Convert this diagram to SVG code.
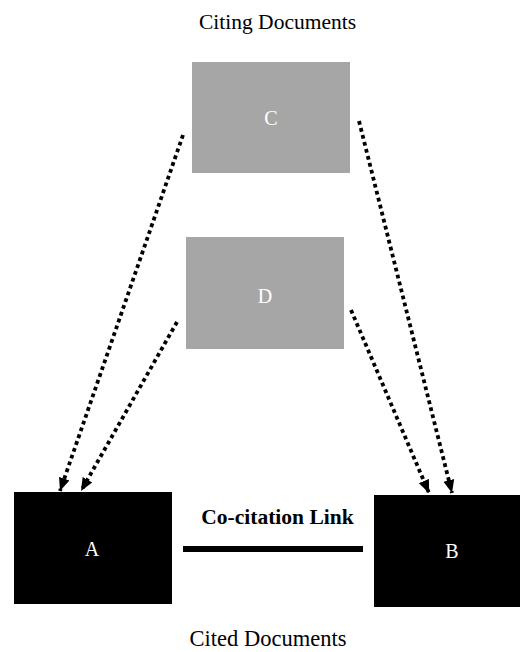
<svg xmlns="http://www.w3.org/2000/svg" width="520" height="652" viewBox="0 0 520 652">
<style>
.t{font-family:"Liberation Serif","Times New Roman",serif;font-size:21.5px;fill:#000;text-anchor:middle}
.cd{font-size:22.5px}
.b{font-weight:bold}
.w{fill:#fff;font-size:20px}
.g{fill:#a6a6a6}
.k{fill:#000}
.c{stroke:#000;stroke-width:3.8;stroke-dasharray:3.8 3.4;fill:none}
</style>
<defs>
<marker id="ah" markerUnits="userSpaceOnUse" markerWidth="14" markerHeight="14" viewBox="0 0 14 14" refX="13" refY="7" orient="auto">
<path d="M0,1.5 L13,7 L0,12.5 Z" fill="#000"/>
</marker>
</defs>
<rect width="520" height="652" fill="#fff"/>
<text class="t" x="277.5" y="29">Citing Documents</text>
<text class="t cd" x="268" y="646">Cited Documents</text>
<g id="C"><rect class="g" x="192" y="62" width="158" height="111"/><text class="t w" x="271" y="125">C</text></g>
<g id="D"><rect class="g" x="186" y="237" width="158" height="112"/><text class="t w" x="265" y="303">D</text></g>
<g id="A"><rect class="k" x="14" y="492" width="158" height="112"/><text class="t w" x="92" y="556">A</text></g>
<g id="B"><rect class="k" x="374" y="495" width="146" height="112"/><text class="t w" x="452" y="558">B</text></g>
<g id="link"><rect x="183" y="546" width="180" height="6" fill="#000"/><text class="t b" x="277.5" y="524">Co-citation Link</text></g>
<g id="connectors">
<line class="c" x1="183" y1="135" x2="60" y2="491" marker-end="url(#ah)"/>
<line class="c" x1="177" y1="322" x2="81" y2="491" marker-end="url(#ah)"/>
<line class="c" x1="359" y1="121" x2="452" y2="493" marker-end="url(#ah)"/>
<line class="c" x1="351" y1="310" x2="429" y2="493" marker-end="url(#ah)"/>
</g>
</svg>
